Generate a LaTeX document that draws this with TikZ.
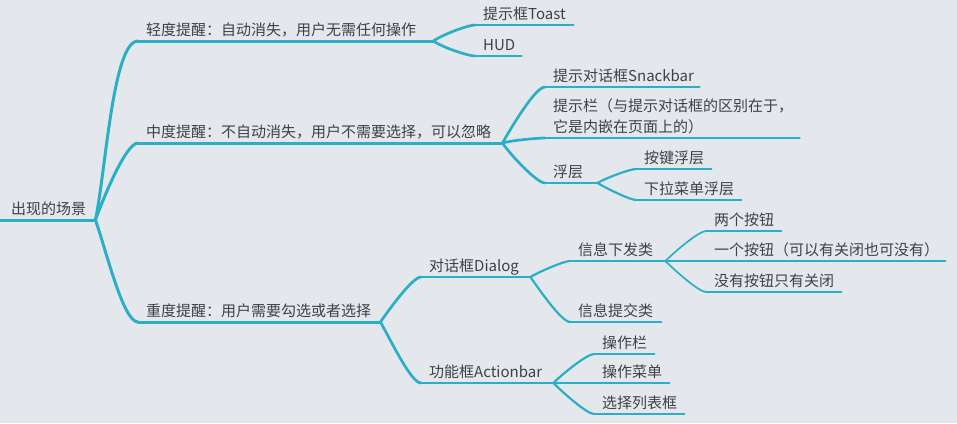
\documentclass[tikz,border=0pt]{standalone}
\usepackage{fontspec}
\usepackage{tikz}
\newfontfamily\cjk{Noto Sans CJK SC}
\definecolor{paper}{HTML}{E4E8EC}
\definecolor{branch}{HTML}{2BAFC7}
\definecolor{ink}{HTML}{3D4246}
\setlength\parindent{0pt}
\tikzset{x=1pt, y=1pt,
  topic/.style={anchor=south west, inner xsep=8pt, inner ysep=5pt,
    text depth=0pt, align=left, text=ink,
    font=\cjk\fontsize{15}{21}\selectfont},
  thick bar/.style={draw=branch, line width=3pt, line cap=round},
  mid bar/.style={draw=branch, line width=2.7pt, line cap=round},
  thin bar/.style={draw=branch, line width=2.2pt, line cap=round},
  hair bar/.style={draw=branch, line width=1.7pt, line cap=round}
}
\def\Topic#1#2#3#4#5{%
 \node[topic, #4] (#2) at (#3) {#5};
 \draw[#1] (#2.south west) -- (#2.south east);
}
\def\Link#1#2#3#4{%
 \draw[#1] (#2.south east) to[out=#4, in=180, out looseness=0.7, in looseness=0.35] (#3.south west);
}
\begin{document}
\begin{tikzpicture}
\useasboundingbox (0,0) rectangle (957,-423);
\fill[paper] (0,0) rectangle (957,-423);
\Topic{thick bar}{root}{0,-220}{text width=73pt, inner xsep=11pt}{出现的场景}
\Topic{thick bar}{light}{138,-41}{text width=279pt}{轻度提醒：自动消失，用户无需任何操作}
\Topic{thick bar}{medium}{138,-143}{text width=348pt}{中度提醒：不自动消失，用户不需要选择，可以忽略}
\Topic{thick bar}{heavy}{138,-322}{text width=226pt}{重度提醒：用户需要勾选或者选择}
\Topic{mid bar}{toast}{475,-25}{text width=82pt}{提示框Toast}
\Topic{mid bar}{hud}{475,-56}{text width=30pt}{HUD}
\Topic{mid bar}{snackbar}{545,-87}{text width=138pt}{提示对话框Snackbar}
\Topic{mid bar}{inline}{545,-138}{text width=238pt, text depth=21pt}{提示栏（与提示对话框的区别在于，\\它是内嵌在页面上的）}
\Topic{mid bar}{float}{545,-183}{text width=36pt}{浮层}
\Topic{thin bar}{keyfloat}{636,-169}{text width=59pt}{按键浮层}
\Topic{thin bar}{dropfloat}{636,-200}{text width=89pt}{下拉菜单浮层}
\Topic{mid bar}{dialog}{421,-277}{text width=93pt}{对话框Dialog}
\Topic{mid bar}{actionbar}{421,-383}{text width=116pt}{功能框Actionbar}
\Topic{thin bar}{issue}{570,-261}{text width=79pt}{信息下发类}
\Topic{thin bar}{submit}{570,-322}{text width=75pt}{信息提交类}
\Topic{hair bar}{twobtn}{706,-231}{text width=59pt}{两个按钮}
\Topic{hair bar}{onebtn}{706,-261}{text width=223pt}{一个按钮（可以有关闭也可没有）}
\Topic{hair bar}{nobtn}{706,-292}{text width=119pt}{没有按钮只有关闭}
\Topic{thin bar}{opbar}{594,-354}{text width=44pt}{操作栏}
\Topic{thin bar}{opmenu}{594,-383}{text width=59pt}{操作菜单}
\Topic{thin bar}{picklist}{594,-414}{text width=74pt}{选择列表框}
% links
\Link{thick bar}{root}{light}{78}
\Link{thick bar}{root}{medium}{70}
\Link{thick bar}{root}{heavy}{-70}
\Link{mid bar}{light}{toast}{35}
\Link{mid bar}{light}{hud}{-35}
\Link{mid bar}{medium}{snackbar}{60}
\Link{mid bar}{medium}{inline}{15}
\Link{mid bar}{medium}{float}{-55}
\Link{thin bar}{float}{keyfloat}{30}
\Link{thin bar}{float}{dropfloat}{-30}
\Link{mid bar}{heavy}{dialog}{55}
\Link{mid bar}{heavy}{actionbar}{-60}
\Link{thin bar}{dialog}{issue}{30}
\Link{thin bar}{dialog}{submit}{-55}
\Link{hair bar}{issue}{twobtn}{45}
\Link{hair bar}{issue}{onebtn}{0}
\Link{hair bar}{issue}{nobtn}{-45}
\Link{thin bar}{actionbar}{opbar}{45}
\Link{thin bar}{actionbar}{opmenu}{0}
\Link{thin bar}{actionbar}{picklist}{-45}
\end{tikzpicture}
\end{document}
